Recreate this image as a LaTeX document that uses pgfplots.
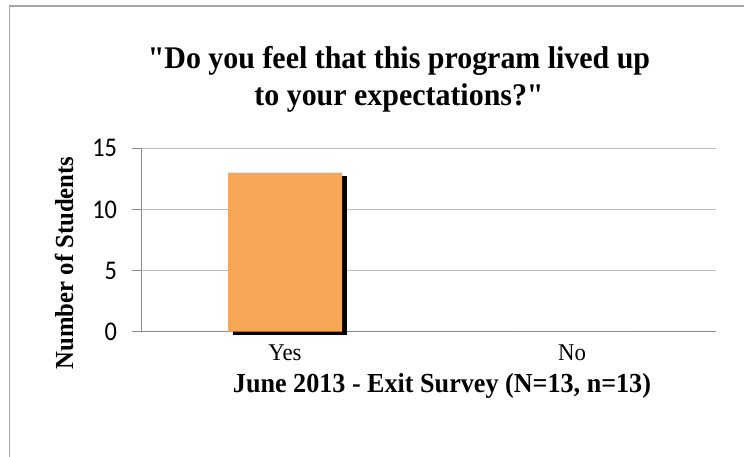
\documentclass[border=0pt]{standalone}
\usepackage{fontspec}
\setmainfont{Liberation Serif}
\newfontfamily\serifc[FakeStretch=0.95]{Liberation Serif}
\newfontfamily\tickfont[FakeStretch=0.9]{Carlito}
\usepackage{pgfplots}
\pgfplotsset{compat=1.18}
\definecolor{barorange}{RGB}{247,166,86}
\definecolor{axisgray}{RGB}{137,137,137}
\definecolor{gridgray}{RGB}{190,190,190}
\begin{document}
\begin{tikzpicture}[x=1pt,y=1pt]
\useasboundingbox (0,0) rectangle (744,457);
\draw[gray!70, line width=1.2pt] (9.5,0) -- (9.5,451) -- (744,451);
\begin{axis}[
  at={(141.5pt,125.3pt)}, anchor=south west,
  scale only axis, width=574pt, height=183.4pt,
  xmin=-0.5, xmax=1.5, ymin=0, ymax=15,
  axis lines*=left,
  axis line style={axisgray, line width=0.8pt},
  ytick={0,5,10,15}, xtick={0,1}, xticklabels={Yes,No},
  /pgf/number format/assume math mode=true,
  ymajorgrids, grid style={gridgray, line width=1pt},
  tick align=outside, major tick length=9pt,
  ytick style={axisgray, line width=0.8pt},
  xtick style={draw=none},
  yticklabel style={font=\tickfont\fontsize{27}{27}\selectfont, anchor=east, xshift=-12pt},
  xticklabel style={font=\serifc\fontsize{24}{24}\selectfont, anchor=center, yshift=-12pt},
  xlabel={June 2013 - Exit Survey (N=13, n=13)},
  xlabel style={font=\serifc\bfseries\fontsize{27.5}{27.5}\selectfont, at={(rel axis cs:0.5235,-0.296)}, anchor=center},
  ylabel={Number of Students},
  ylabel style={font=\serifc\bfseries\fontsize{26}{26}\selectfont, at={(rel axis cs:-0.135,0.375)}, anchor=center},
  title={"Do you feel that this program lived up\\to your expectations?"},
  title style={font=\serifc\bfseries\fontsize{31.5}{37}\selectfont, at={(rel axis cs:0.4486,1.345)}, anchor=center, align=center},
  clip=false,
]
\addplot[ybar, bar width=114pt, bar shift=5pt, fill=black, draw=none, yshift=-3pt] coordinates {(0,13)};
\addplot[ybar, bar width=114pt, fill=barorange, draw=none] coordinates {(0,13) (1,0)};
\end{axis}
\end{tikzpicture}
\end{document}
